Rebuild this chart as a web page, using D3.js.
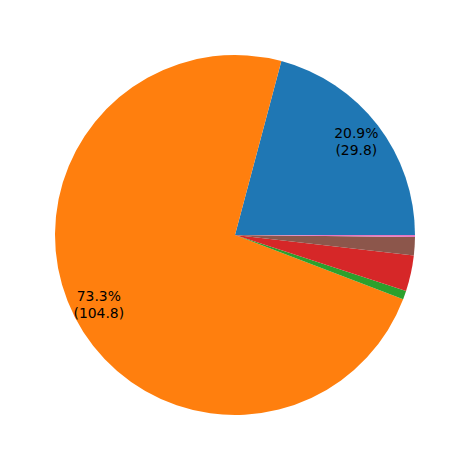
<!DOCTYPE html>
<html>
<head>
<meta charset="utf-8">
<script src="https://cdn.jsdelivr.net/npm/d3@7"></script>
<style>
  body { margin: 0; background: #fff; }
  svg { display: block; }
  text { font-family: "DejaVu Sans", sans-serif; font-size: 13.9px; fill: #000; }
</style>
</head>
<body>
<div id="chart"></div>
<script>
  // slice values, in matplotlib draw order (counterclockwise from 3 o'clock)
  var values = [29.8, 104.8, 1.1, 4.6, 0, 2.35, 0.25];
  var colors = ["#1f77b4", "#ff7f0e", "#2ca02c", "#d62728", "#9467bd", "#8c564b", "#e377c2"];
  var minLabelPct = 5; // only big slices get a label

  var width = 469, height = 470;
  var cx = 235, cy = 235, radius = 180;

  var svg = d3.select("#chart").append("svg")
      .attr("width", width)
      .attr("height", height)
    .append("g")
      .attr("transform", "translate(" + cx + "," + cy + ")");

  var total = d3.sum(values);

  // start at 3 o'clock and go counterclockwise, like matplotlib
  var pie = d3.pie()
      .sort(null)
      .startAngle(Math.PI / 2)
      .endAngle(Math.PI / 2 - 2 * Math.PI);

  var arc = d3.arc().innerRadius(0).outerRadius(radius);
  var labelArc = d3.arc().innerRadius(radius * 0.85).outerRadius(radius * 0.85);

  var arcs = pie(values);

  svg.selectAll(".slice")
    .data(arcs)
    .enter().append("path")
      .attr("class", "slice")
      .attr("fill", function (d, i) { return colors[i]; })
      .attr("d", arc);

  var labels = svg.selectAll(".lbl")
    .data(arcs.filter(function (d) { return d.value / total * 100 >= minLabelPct; }))
    .enter().append("text")
      .attr("class", "lbl")
      .attr("text-anchor", "middle")
      .attr("transform", function (d) {
        var c = labelArc.centroid(d);
        return "translate(" + c[0] + "," + c[1] + ")";
      });

  labels.append("tspan")
      .attr("x", 0)
      .attr("dy", "-0.25em")
      .text(function (d) { return (d.value / total * 100).toFixed(1) + "%"; });

  labels.append("tspan")
      .attr("x", 0)
      .attr("dy", "1.2em")
      .text(function (d) { return "(" + d.value.toFixed(1) + ")"; });
</script>
</body>
</html>
